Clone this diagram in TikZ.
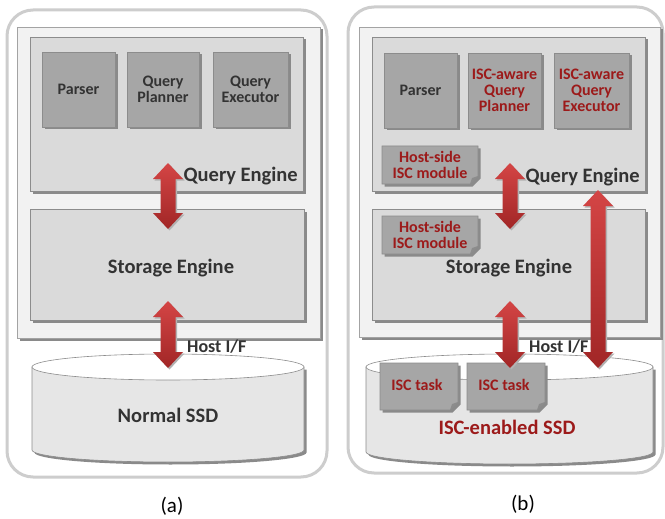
\documentclass[tikz,border=0pt]{standalone}
\usepackage{fontspec}
\setmainfont{Carlito}
\usetikzlibrary{shadows}
\definecolor{txt}{HTML}{333333}
\definecolor{isc}{HTML}{9C1A1A}
\definecolor{outerline}{HTML}{CDCDCD}
\definecolor{hostfill}{HTML}{F2F2F2}
\definecolor{enginefill}{HTML}{DADADA}
\definecolor{modfill}{HTML}{A6A6A6}
\definecolor{edge}{HTML}{8C8C8C}
\definecolor{shadowc}{HTML}{8A8A8A}
\definecolor{arrtop}{HTML}{D44545}
\definecolor{arrbot}{HTML}{A12626}
\definecolor{ssdfill}{HTML}{E6E6E6}
\tikzset{
  outerbox/.style={draw=outerline, line width=3pt, rounded corners=26pt, fill=white},
  sh/.style={drop shadow={shadow xshift=2.5pt, shadow yshift=-2.5pt, fill=shadowc, opacity=1}},
  lightsh/.style={drop shadow={shadow xshift=1.5pt, shadow yshift=-1.5pt, fill=black!30, opacity=1}},
  hostbox/.style={draw=edge!80, line width=0.6pt, fill=hostfill, sh, inner sep=0pt},
  enginebox/.style={draw=edge, line width=0.6pt, fill=enginefill, sh, inner sep=0pt},
  modbox/.style={draw=edge, line width=0.6pt, fill=modfill, sh, text=txt,
    font=\bfseries\fontsize{16}{16}\selectfont, align=center, inner sep=0pt},
  iscmod/.style={modbox, text=isc},
  modtext/.style={text=isc, font=\bfseries\fontsize{16}{15.5}\selectfont, align=center, inner sep=0pt},
  biglabel/.style={text=txt, font=\bfseries\fontsize{20.5}{22}\selectfont, inner sep=0pt},
  ifl/.style={text=txt, font=\bfseries\fontsize{18}{20}\selectfont, inner sep=0pt},
  caption/.style={text=black, font=\fontsize{21}{23}\selectfont, inner sep=0pt},
  arrowshape/.style={top color=arrtop, bottom color=arrbot, lightsh},
  earbox/.style={draw=edge, line width=0.6pt, fill=modfill, sh},
  cylbody/.style={draw=edge, line width=0.6pt, fill=ssdfill, sh},
  cyltop/.style={draw=edge, line width=0.6pt, fill=white}
}
% double arrow: centre x, top tip y, bottom tip y
\newcommand\dblarrow[3]{%
  \path[arrowshape] (#1,#2) -- ({#1+15},{#2+16}) -- ({#1+7.5},{#2+16}) -- ({#1+7.5},{#3-16})
    -- ({#1+15},{#3-16}) -- (#1,#3) -- ({#1-15},{#3-16}) -- ({#1-7.5},{#3-16})
    -- ({#1-7.5},{#2+16}) -- ({#1-15},{#2+16}) -- cycle;}
% dog-eared box: centre x, centre y, width, height
\newcommand\dogear[4]{%
  \path[earbox] ({#1-#3/2},{#2-#4/2}) -- ({#1+#3/2},{#2-#4/2}) -- ({#1+#3/2},{#2+#4/2-8})
    -- ({#1+#3/2-8},{#2+#4/2}) -- ({#1-#3/2},{#2+#4/2}) -- cycle;
  \fill[edge] ({#1+#3/2},{#2+#4/2-8}) -- ({#1+#3/2-8},{#2+#4/2}) -- ({#1+#3/2-6},{#2+#4/2-6}) -- cycle;}
% cylinder: left x, right x, top y, bottom y
\newcommand\cylinder[4]{%
  \path[cylbody] (#1,#3) -- (#1,#4) arc[start angle=180, end angle=360, x radius={(#2-#1)/2*1pt}, y radius=12pt]
    -- (#2,#3) -- cycle;
  \path[cyltop] ({(#1+#2)/2},#3) ellipse[x radius={(#2-#1)/2*1pt}, y radius=13pt];}
\begin{document}
\begin{tikzpicture}[x=1pt, y=-1pt]
\useasboundingbox (0,0) rectangle (665,519);

% ---------------- panel (a) ----------------
\node[outerbox, minimum width=320pt, minimum height=467pt] (outA) at (167,243.5) {};
\node[hostbox, minimum width=303pt, minimum height=311pt] (hostA) at (168.5,182.5) {};
\node[enginebox, minimum width=273pt, minimum height=154pt] (qeA) at (166.5,114) {};
\node[modbox, minimum width=73pt, minimum height=75pt] (parA) at (78.5,89.5) {Parser};
\node[modbox, minimum width=72pt, minimum height=75pt] (plaA) at (163,89.5) {Query\\Planner};
\node[modbox, minimum width=75pt, minimum height=75pt] (exeA) at (250.5,89.5) {Query\\Executor};
\node[biglabel, anchor=east] (qelA) at (298,176) {Query Engine};
\node[enginebox, minimum width=274pt, minimum height=111pt] (seA) at (167,264.5) {};
\node[biglabel] (selA) at (171,268) {Storage Engine};
\cylinder{32}{304}{367}{450}
\node[biglabel] (ssdA) at (168,415) {Normal SSD};
\dblarrow{168}{163}{229}
\dblarrow{168}{301}{368}
\node[ifl, anchor=west] (ifA) at (187,347) {Host I/F};
\node[caption] (capA) at (172,506) {(a)};

% ---------------- panel (b) ----------------
\node[outerbox, minimum width=315pt, minimum height=466pt] (outB) at (505.5,240) {};
\node[hostbox, minimum width=301pt, minimum height=310pt] (hostB) at (509.5,182) {};
\node[enginebox, minimum width=273pt, minimum height=154pt] (qeB) at (508.5,114) {};
\node[modbox, minimum width=73pt, minimum height=75pt] (parB) at (420.5,90.5) {Parser};
\node[iscmod, minimum width=73pt, minimum height=75pt] (plaB) at (504.5,90.5) {ISC-aware\\Query\\Planner};
\node[iscmod, minimum width=75pt, minimum height=75pt] (exeB) at (591.5,90.5) {ISC-aware\\Query\\Executor};
\dogear{430}{165}{96}{38}
\node[modtext] (hm1) at (430,165) {Host-side\\ISC module};
\node[biglabel, anchor=east] (qelB) at (640,177) {Query Engine};
\node[enginebox, minimum width=273pt, minimum height=111pt] (seB) at (508.5,264.5) {};
\dogear{430}{235}{96}{38}
\node[modtext] (hm2) at (430,235) {Host-side\\ISC module};
\node[biglabel] (selB) at (509,268) {Storage Engine};
\cylinder{366}{653}{367}{452}
\dogear{419}{386.5}{78}{47}
\node[modtext] (t1) at (417,385) {ISC task};
\dogear{506}{386.5}{78}{47}
\node[modtext] (t2) at (504,385) {ISC task};
\node[biglabel, text=isc] (ssdB) at (507,427) {ISC-enabled SSD};
\dblarrow{510}{163}{229}
\dblarrow{510}{301}{368}
\dblarrow{598}{190}{368}
\node[ifl, anchor=west] (ifB) at (529,347) {Host I/F};
\node[caption] (capB) at (523,504) {(b)};
\end{tikzpicture}
\end{document}
